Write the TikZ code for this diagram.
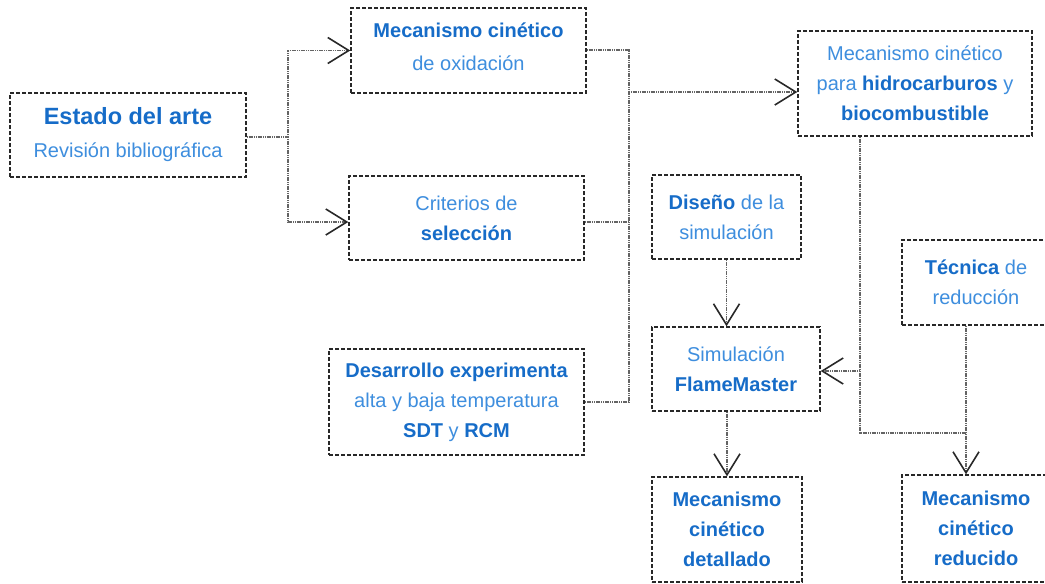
\documentclass[tikz,border=0pt]{standalone}
\usepackage{fontspec}
\setmainfont{Liberation Sans}
\usetikzlibrary{arrows.meta}
\definecolor{bblue}{RGB}{22,108,200}
\definecolor{rblue}{RGB}{62,142,222}
\definecolor{edge}{RGB}{40,40,40}
\definecolor{lnk}{RGB}{100,100,100}
\newcommand{\bt}[1]{{\bfseries\color{bblue}#1}}
\tikzset{
  box/.style={draw=edge, line width=1.4pt, dash pattern=on 4pt off 2pt, fill=white,
    align=center, inner sep=0pt, text=rblue, font=\fontsize{20}{30}\selectfont},
  conn/.style={draw=lnk, line width=1.4pt, dash pattern=on 1.2pt off 0.6pt},
  arr/.style={-{Straight Barb[length=21pt,width=26pt,line width=1.6pt,color=edge]}}
}
\begin{document}
\begin{tikzpicture}[x=1pt,y=-1pt]
\useasboundingbox (0,0) rectangle (1045,584);
\begin{scope}
\clip (0,0) rectangle (1045,584);
\node[box, minimum width=236pt, minimum height=84pt, font=\fontsize{20}{33}\selectfont] (est) at (128,135)
  {{\fontsize{23.5}{33}\selectfont\bt{Estado del arte}}\\Revisión bibliográfica};
\node[box, minimum width=235pt, minimum height=85pt, font=\fontsize{20}{33}\selectfont] (ox) at (468.5,50.5)
  {\bt{Mecanismo cinético}\\de oxidación\rule[-8pt]{0pt}{1pt}};
\node[box, minimum width=235pt, minimum height=84pt] (sel) at (466.5,218)
  {Criterios de\\\bt{selección}};
\node[box, minimum width=255pt, minimum height=106pt] (des) at (456.5,402)
  {\bt{Desarrollo experimenta}\\alta y baja temperatura\\\bt{SDT} y \bt{RCM}};
\node[box, minimum width=234pt, minimum height=105pt] (hid) at (915,83.5)
  {Mecanismo cinético\\para \bt{hidrocarburos} y\\\bt{biocombustible}};
\node[box, minimum width=149pt, minimum height=84pt] (dis) at (726.5,217)
  {\bt{Diseño} de la\\simulación};
\node[box, minimum width=148pt, minimum height=85pt] (tec) at (976,282.5)
  {\bt{Técnica} de\\reducción};
\node[box, minimum width=168pt, minimum height=84pt] (sim) at (736,369)
  {Simulación\\\bt{FlameMaster}};
\node[box, minimum width=150pt, minimum height=105pt] (det) at (727,529.5)
  {\bt{Mecanismo}\\\bt{cinético}\\\bt{detallado}};
\node[box, minimum width=148pt, minimum height=107pt] (red) at (976,528.5)
  {\bt{Mecanismo}\\\bt{cinético}\\\bt{reducido}};

\coordinate (j1) at (288,137);
\coordinate (jl) at (288,222);
\coordinate (jt) at (629,50);
\coordinate (jm) at (629,92);
\coordinate (jb) at (629,402);
\coordinate (k1) at (860,371);
\coordinate (k2) at (860,433);
\coordinate (t1) at (966,0);

\draw[conn] (est.east |- j1) -- (j1);
\draw[conn,arr] (j1) |- (ox);
\draw[conn,arr] (j1) -- (jl) -- (jl -| sel.west);
\draw[conn] (ox.east |- jt) -- (jt) -- (jb) -- (des.east |- jb);
\draw[conn] (sel.east |- jl) -- (jt |- jl);
\draw[conn,arr] (jm) -- (jm -| hid.west);
\draw[conn] (hid.south -| k1) -- (k2) -- (k2 -| t1);
\draw[conn,arr] (k1) -- (k1 -| sim.east);
\draw[conn,arr] (tec.south -| t1) -- (red.north -| t1);
\draw[conn,arr] (dis) -- (dis |- sim.north);
\draw[conn,arr] (sim.south -| det) -- (det);
\end{scope}
\end{tikzpicture}
\end{document}
